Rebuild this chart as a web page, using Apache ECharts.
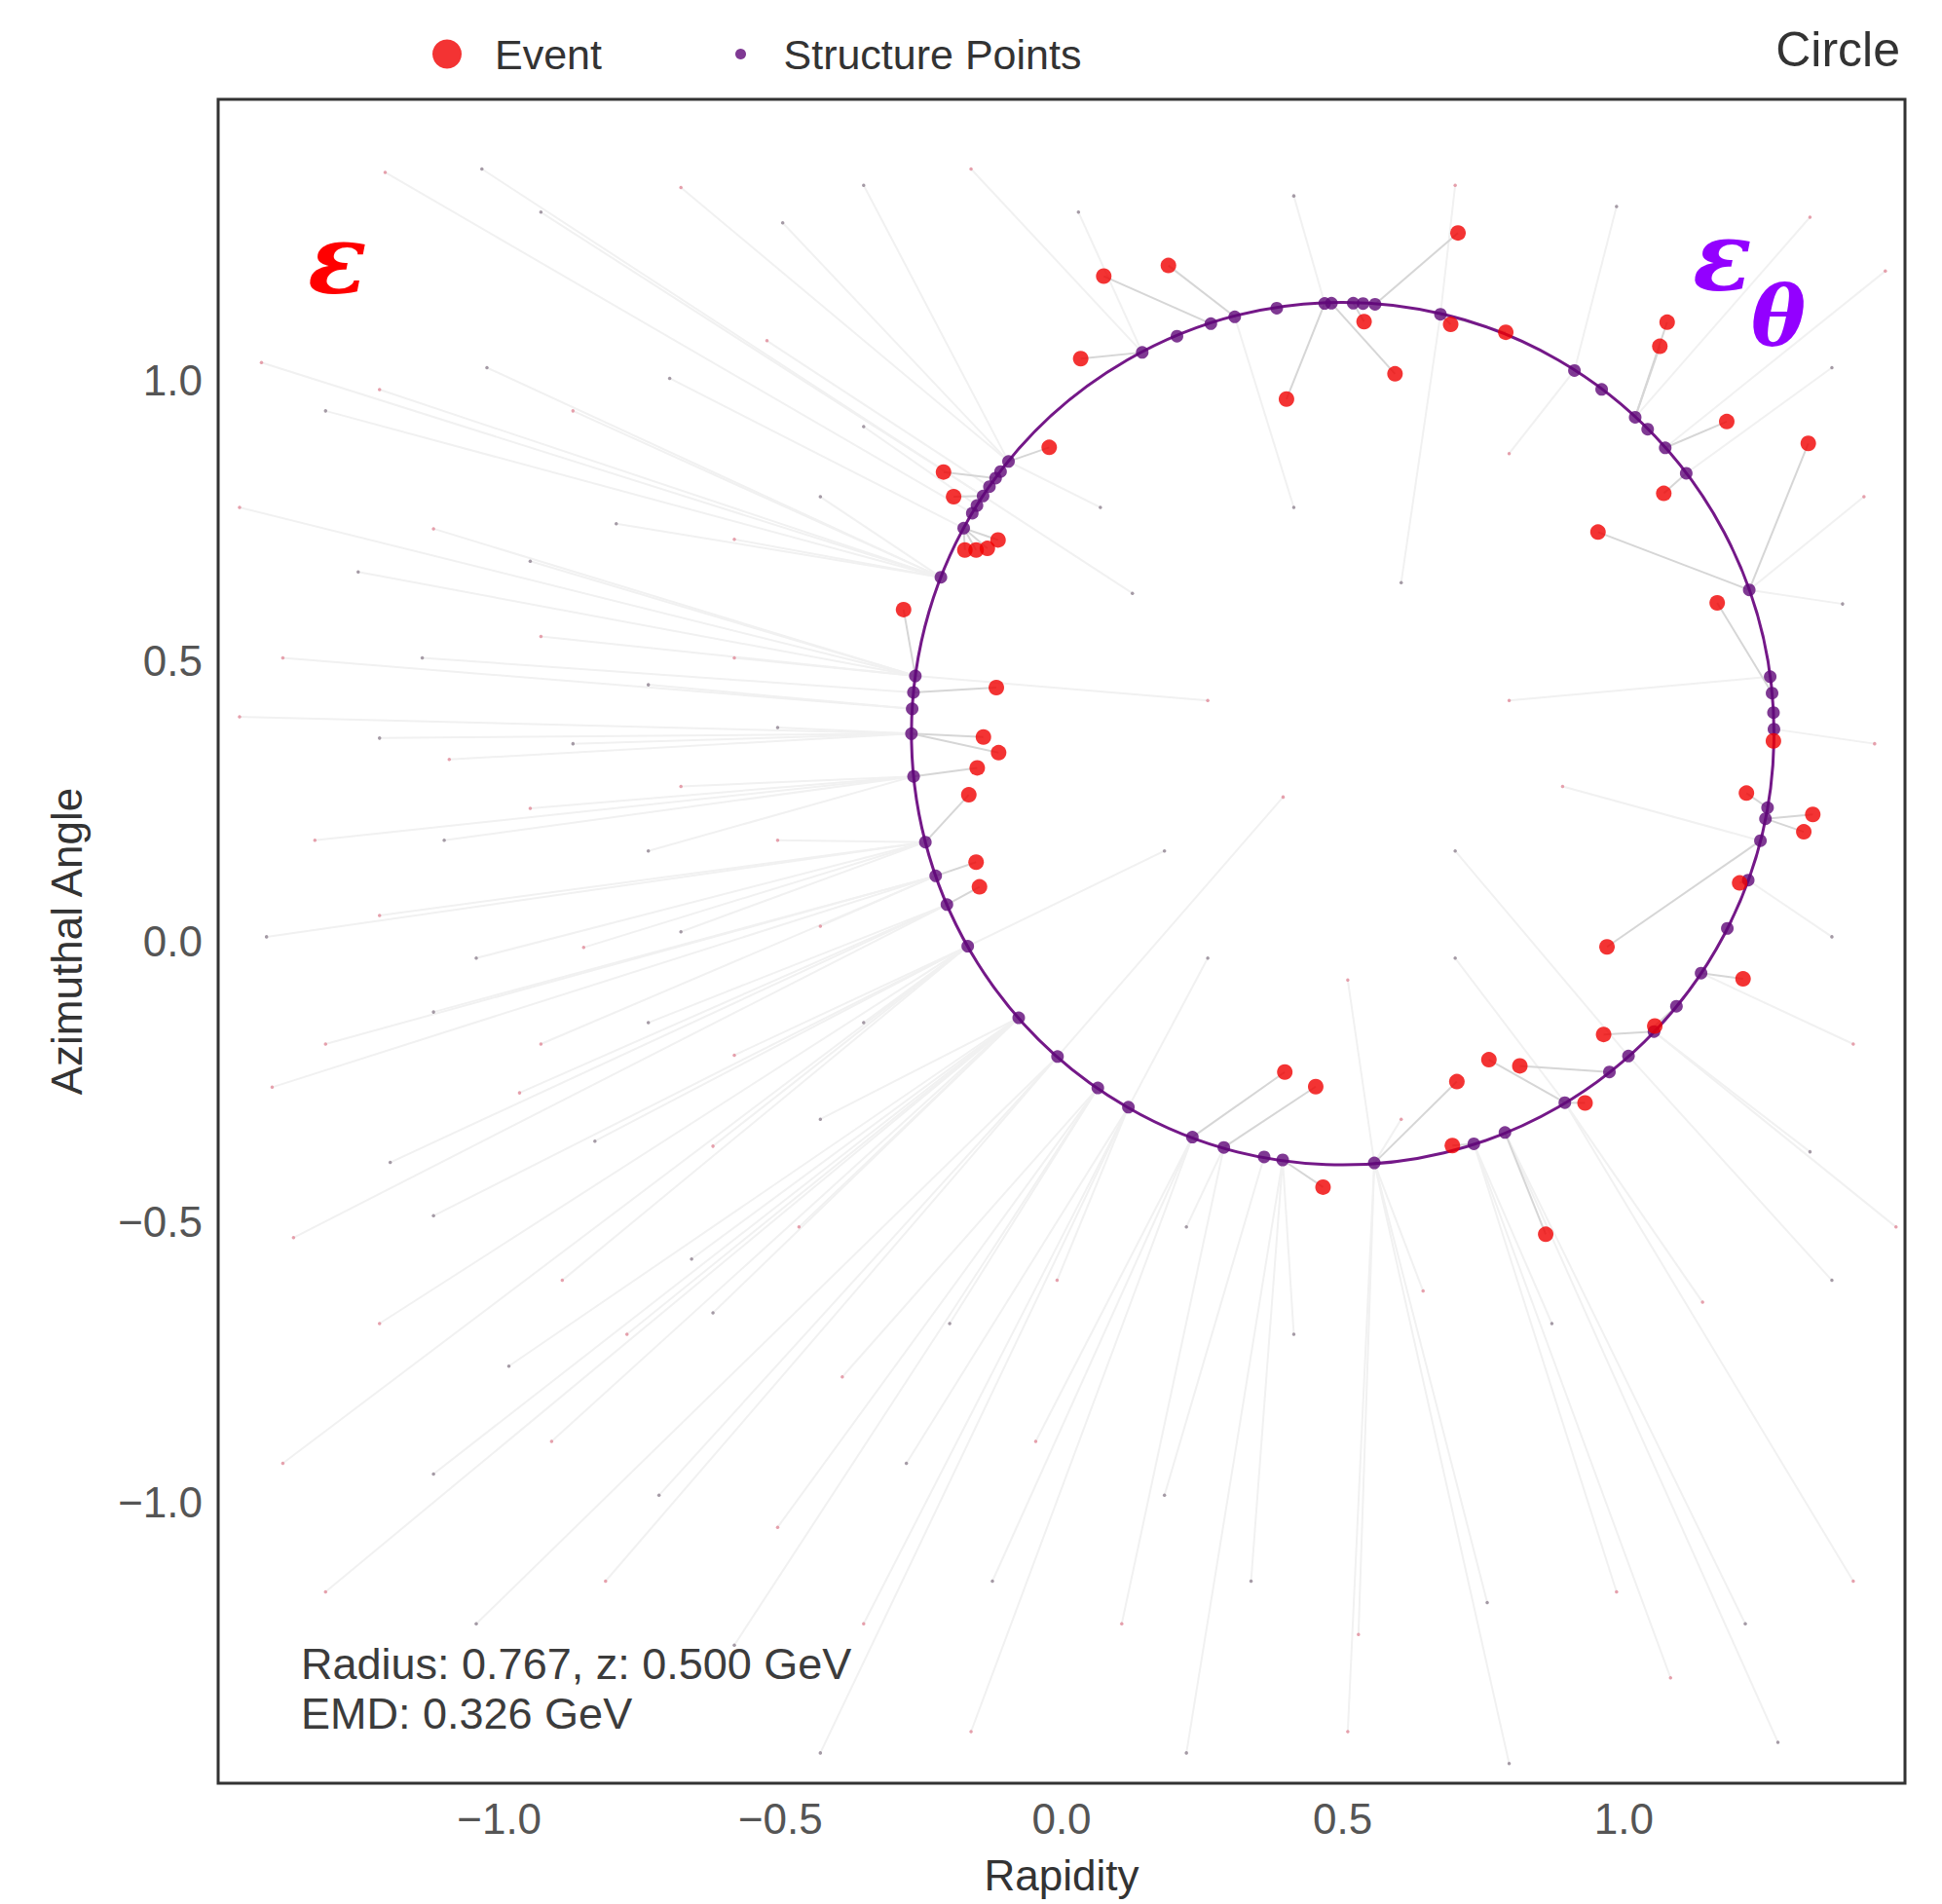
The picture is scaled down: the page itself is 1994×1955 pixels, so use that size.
<!DOCTYPE html>
<html>
<head>
<meta charset="utf-8">
<title>Circle</title>
<script src="https://cdn.jsdelivr.net/npm/echarts@6/dist/echarts.min.js"></script>
<style>
html, body { margin: 0; padding: 0; background: #fff; }
#chart { width: 1994px; height: 1955px; }
</style>
</head>
<body>
<div id="chart"></div>
<script>
// fitted circle
var circleCenter = [0.5, 0.37];
var circleRadius = 0.767;

// event particles (red)
var eventPoints = [
    [0.705, 1.262], [0.075, 1.185], [0.190, 1.204], [0.538, 1.104], [0.692, 1.099],
    [0.790, 1.085], [0.593, 1.011], [0.400, 0.966], [0.034, 1.038], [1.077, 1.103],
    [1.064, 1.060], [1.183, 0.926], [1.328, 0.887], [1.071, 0.798], [0.954, 0.729],
    [1.166, 0.603], [-0.022, 0.880], [-0.210, 0.836], [-0.192, 0.792], [-0.113, 0.715],
    [-0.172, 0.697], [-0.152, 0.697], [-0.132, 0.700], [-0.281, 0.591], [-0.116, 0.452],
    [-0.139, 0.364], [-0.112, 0.336], [-0.150, 0.309], [-0.165, 0.261], [-0.152, 0.141],
    [-0.146, 0.097], [1.266, 0.357], [1.218, 0.264], [1.336, 0.226], [1.320, 0.195],
    [1.206, 0.104], [0.970, -0.010], [1.212, -0.067], [1.055, -0.151], [0.964, -0.166],
    [0.760, -0.211], [0.815, -0.222], [0.703, -0.250], [0.931, -0.288], [0.695, -0.364],
    [0.861, -0.522], [0.397, -0.233], [0.452, -0.259], [0.465, -0.438]
];
// where on the circle (deg) each event's flow line ends
var eventTargets = [
    85.7, 107.8, 104.5, 88.6, 76.9,
    76.9, 91.5, 92.4, 117.7, 47.3,
    47.3, 41.6, 19.5, 37.2, 19.5,
    5.4, 140.8, 143.6, 146.5, 151.5,
    151.5, 151.5, 151.5, 172.3, 174.5,
    180.0, 180.0, 185.7, 194.6, 199.3,
    203.4, 0.6, 350.1, 348.6, 348.6,
    340.1, 345.6, 326.2, 320.7, 316.2,
    301.0, 308.2, 274.2, 301.0, 287.7,
    292.1, 249.6, 254.0, 262.0
];

// structure points, angle on the circle (deg)
var structAngles = [
    0.6, 2.8, 5.4, 7.6, 19.5, 37.2, 41.6, 45.0, 47.3, 53.1, 57.5, 76.9,
    85.7, 87.3, 88.6, 91.5, 92.4, 98.8, 104.5, 107.8, 112.6, 117.7,
    140.8, 142.5, 143.6, 145.0, 146.5, 148.0, 149.2, 151.5, 158.7,
    172.3, 174.5, 176.7, 180.0, 185.7, 194.6, 199.3, 203.4, 209.6,
    221.3, 228.6, 235.4, 240.2, 249.6, 254.0, 259.5, 262.0, 274.2,
    287.7, 292.1, 301.0, 308.2, 311.5, 316.2, 320.7, 326.2, 333.1,
    340.1, 345.6, 348.6, 350.1
];

// soft background particles
var faintPink = [
    [-1.203, 1.370], [-0.677, 1.343], [-0.161, 1.376], [0.700, 1.347], [1.331, 1.290],
    [-1.423, 1.031], [-1.213, 0.983], [-0.869, 0.945], [-0.524, 1.070], [-1.462, 0.773],
    [-1.117, 0.735], [-0.582, 0.716], [-1.385, 0.505], [-0.926, 0.543], [-0.582, 0.505],
    [-1.462, 0.400], [-1.089, 0.324], [-0.677, 0.276], [-1.328, 0.180], [-0.945, 0.237],
    [-0.505, 0.180], [-1.213, 0.046], [-0.850, -0.011], [-0.429, 0.027], [-1.309, -0.183],
    [-0.926, -0.183], [-0.582, -0.203], [-1.404, -0.260], [-0.964, -0.270], [-0.620, -0.365],
    [-1.366, -0.528], [-0.888, -0.604], [-0.467, -0.509], [-1.213, -0.681], [-0.773, -0.700],
    [-0.390, -0.776], [-0.008, -0.604], [-1.385, -0.930], [-0.907, -0.891], [-0.505, -1.044],
    [-0.046, -0.891], [-1.309, -1.159], [-0.811, -1.140], [-0.352, -1.216], [0.107, -1.216],
    [0.528, -1.235], [0.987, -1.159], [1.408, -1.140], [0.643, -0.623], [1.140, -0.643],
    [1.484, -0.509], [1.408, -0.183], [1.446, 0.352], [1.427, 0.792], [1.465, 1.194],
    [0.509, -1.408], [1.083, -1.312], [-0.161, -1.408], [0.260, 0.429], [0.796, 0.429],
    [0.394, 0.257], [0.891, 0.276], [0.509, -0.069], [0.796, 0.869], [0.604, -0.317]
];
var faintGray = [
    [-1.031, 1.376], [-0.926, 1.299], [-0.496, 1.280], [-0.352, 1.347], [0.030, 1.299],
    [0.413, 1.328], [0.987, 1.309], [-1.309, 0.945], [-1.022, 1.022], [-0.697, 1.003],
    [-0.352, 0.917], [-1.251, 0.658], [-0.945, 0.677], [-0.792, 0.744], [-0.429, 0.792],
    [-1.137, 0.505], [-0.735, 0.457], [-1.213, 0.362], [-0.869, 0.352], [-0.505, 0.381],
    [-1.098, 0.180], [-0.735, 0.161], [-1.414, 0.008], [-1.041, -0.030], [-0.677, 0.017],
    [-1.117, -0.126], [-0.735, -0.145], [-0.352, -0.145], [-1.194, -0.394], [-0.830, -0.356],
    [-0.429, -0.317], [-1.117, -0.489], [-0.658, -0.566], [-0.983, -0.757], [-0.620, -0.662],
    [-0.199, -0.681], [-1.117, -0.949], [-0.716, -0.987], [-0.276, -0.930], [0.183, -0.987],
    [-1.041, -1.216], [-0.582, -1.254], [-0.123, -1.140], [0.337, -1.140], [0.757, -1.178],
    [1.216, -1.216], [0.413, -0.700], [0.872, -0.681], [1.370, -0.604], [1.331, -0.375],
    [1.370, 0.008], [1.389, 0.601], [1.370, 1.022], [0.222, -1.446], [0.796, -1.465],
    [1.274, -1.427], [-0.429, -1.446], [0.126, 0.620], [0.604, 0.639], [0.183, 0.161],
    [0.700, 0.161], [0.260, -0.030], [0.700, -0.030], [0.413, 0.773], [0.069, 0.773],
    [0.222, -0.509]
];

var FONT = "'Liberation Sans', Arial, sans-serif";

function circlePoint(deg) {
    var a = deg * Math.PI / 180;
    return [circleCenter[0] + circleRadius * Math.cos(a), circleCenter[1] + circleRadius * Math.sin(a)];
}

var structPoints = structAngles.map(circlePoint);

// flow lines: events -> their structure point
var eventFlows = [];
for (var i = 0; i < eventPoints.length; i++) {
    eventFlows.push({ coords: [eventPoints[i], circlePoint(eventTargets[i])] });
}
// faint particles -> closest structure point
function closestStruct(p) {
    var best = structPoints[0], bd = 1e9;
    for (var k = 0; k < structPoints.length; k++) {
        var dx = structPoints[k][0] - p[0], dy = structPoints[k][1] - p[1];
        var d = dx * dx + dy * dy;
        if (d < bd) { bd = d; best = structPoints[k]; }
    }
    return best;
}
var faintFlows = faintPink.concat(faintGray).map(function (p) {
    return { coords: [p, closestStruct(p)] };
});

function tickFmt(v) {
    if (Math.abs(v) > 1.01) return '';
    return (v < 0 ? '\u2212' : '') + Math.abs(v).toFixed(1);
}

var chart = echarts.init(document.getElementById('chart'), null, { renderer: 'svg' });

var option = {
    backgroundColor: '#ffffff',
    animation: false,
    grid: {
        left: 224, top: 102, width: 1732, height: 1729,
        show: true, borderColor: '#333333', borderWidth: 3, backgroundColor: '#ffffff'
    },
    legend: [
        {
            data: ['Event'], left: 439, top: 29, icon: 'circle',
            itemWidth: 88, itemHeight: 30, itemGap: 0,
            textStyle: { fontFamily: FONT, fontSize: 43, color: '#333333' }
        },
        {
            data: ['Structure Points'], left: 750, top: 29, icon: 'circle',
            itemWidth: 78, itemHeight: 11, itemGap: 0,
            textStyle: { fontFamily: FONT, fontSize: 43, color: '#333333' }
        }
    ],
    xAxis: {
        type: 'value', min: -1.5, max: 1.5, interval: 0.5,
        name: 'Rapidity', nameLocation: 'middle', nameGap: 72,
        nameTextStyle: { fontFamily: FONT, fontSize: 44, color: '#333333' },
        axisLine: { show: false }, axisTick: { show: false }, splitLine: { show: false },
        axisLabel: { margin: 14, fontFamily: FONT, fontSize: 44, color: '#555555', formatter: tickFmt }
    },
    yAxis: {
        type: 'value', min: -1.5, max: 1.5, interval: 0.5,
        name: 'Azimuthal Angle', nameLocation: 'middle', nameGap: 134,
        nameTextStyle: { fontFamily: FONT, fontSize: 44, color: '#333333' },
        axisLine: { show: false }, axisTick: { show: false }, splitLine: { show: false },
        axisLabel: { margin: 16, fontFamily: FONT, fontSize: 44, color: '#555555', formatter: tickFmt }
    },
    graphic: [
        { type: 'text', right: 43, top: 26, style: { text: 'Circle', font: '50px ' + FONT, fill: '#333333' } },
        { type: 'text', left: 316, top: 216, style: { text: '\u03b5', font: 'italic bold 100px "DejaVu Serif", serif', fill: '#ff0000' } },
        { type: 'text', left: 1738, top: 213, style: { text: '\u03b5', font: 'italic bold 100px "DejaVu Serif", serif', fill: '#9300ff' } },
        { type: 'text', left: 1798, top: 283, style: { text: '\u03b8', font: 'italic bold 84px "DejaVu Serif", serif', fill: '#9300ff' } },
        { type: 'text', left: 309, top: 1686, style: { text: 'Radius: 0.767, z: 0.500 GeV', font: '45px ' + FONT, fill: '#3c3c3c' } },
        { type: 'text', left: 309, top: 1737, style: { text: 'EMD: 0.326 GeV', font: '45px ' + FONT, fill: '#3c3c3c' } }
    ],
    series: [
        {
            name: 'faint flow', type: 'lines', coordinateSystem: 'cartesian2d', z: 1,
            silent: true, data: faintFlows,
            lineStyle: { color: '#f1f1f1', width: 2, opacity: 1 }
        },
        {
            name: 'faint pink', type: 'scatter', z: 2, silent: true, symbolSize: 3.5,
            data: faintPink, itemStyle: { color: '#e08a98' }
        },
        {
            name: 'faint gray', type: 'scatter', z: 2, silent: true, symbolSize: 3.5,
            data: faintGray, itemStyle: { color: '#8e8290' }
        },
        {
            name: 'flow', type: 'lines', coordinateSystem: 'cartesian2d', z: 3,
            silent: true, data: eventFlows,
            lineStyle: { color: '#d6d6d6', width: 2, opacity: 1 }
        },
        {
            name: 'circle', type: 'custom', z: 4, silent: true,
            data: [[circleCenter[0], circleCenter[1], circleRadius]],
            renderItem: function (params, api) {
                var c = api.coord([api.value(0), api.value(1)]);
                var r = api.size([api.value(2), 0])[0];
                return {
                    type: 'circle',
                    shape: { cx: c[0], cy: c[1], r: r },
                    style: { fill: 'none', stroke: '#741888', lineWidth: 3 }
                };
            }
        },
        {
            name: 'Structure Points', type: 'scatter', z: 5, symbol: 'circle', symbolSize: 13,
            data: structPoints, itemStyle: { color: '#5f0878' }
        },
        {
            name: 'Event', type: 'scatter', z: 6, symbol: 'circle', symbolSize: 16,
            data: eventPoints, itemStyle: { color: '#f00000' }
        }
    ]
};

chart.setOption(option);
</script>
</body>
</html>
